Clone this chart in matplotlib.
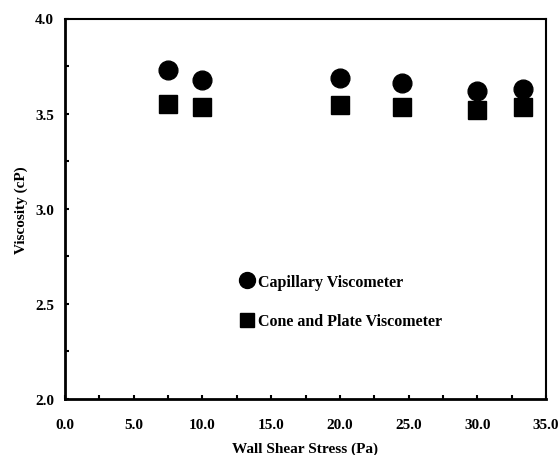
import matplotlib
matplotlib.use("Agg")
import matplotlib.pyplot as plt
from matplotlib.ticker import MultipleLocator, FormatStrFormatter

plt.rcParams['font.family'] = ['Liberation Serif', 'DejaVu Serif']
plt.rcParams['font.weight'] = 'bold'

shear_stress = [7.5, 10.0, 20.0, 24.5, 30.0, 33.3]
capillary = [3.728, 3.678, 3.686, 3.661, 3.621, 3.630]
cone_plate = [3.551, 3.537, 3.545, 3.533, 3.519, 3.535]

fig = plt.figure(figsize=(5.6, 4.56), dpi=100)
ax = fig.add_axes([65/560, 1-400/456, (546-65)/560, (400-19.5)/456])

ax.plot(shear_stress, capillary, 'o', color='black', markersize=13.5, linestyle='none',
        label='Capillary Viscometer')
ax.plot(shear_stress, cone_plate, 's', color='black', markersize=12.5, linestyle='none',
        label='Cone and Plate Viscometer')

ax.set_xlim(0, 35)
ax.set_ylim(2.0, 4.0)
ax.xaxis.set_major_locator(MultipleLocator(5))
ax.xaxis.set_minor_locator(MultipleLocator(2.5))
ax.yaxis.set_major_locator(MultipleLocator(0.5))
ax.yaxis.set_minor_locator(MultipleLocator(0.25))
ax.xaxis.set_major_formatter(FormatStrFormatter('%.1f'))
ax.yaxis.set_major_formatter(FormatStrFormatter('%.1f'))
ax.tick_params(which='both', direction='in', length=3, width=1.5, labelsize=11)
ax.tick_params(axis='x', pad=14)
ax.tick_params(axis='y', pad=8)
for lab in ax.get_xticklabels() + ax.get_yticklabels():
    lab.set_fontweight('bold')
for s in ['left', 'bottom']:
    ax.spines[s].set_linewidth(2)
for s in ['top', 'right']:
    ax.spines[s].set_linewidth(1.5)

ax.set_xlabel('Wall Shear Stress (Pa)', fontsize=11, fontweight='bold', labelpad=7)
ax.set_ylabel('Viscosity (cP)', fontsize=11, fontweight='bold', labelpad=5)

leg = ax.legend(loc='upper left', bbox_to_anchor=((238-65)/481, 1-(275-19.5)/380.5),
                frameon=False, fontsize=11.5, handletextpad=0.15, labelspacing=1.45,
                handlelength=1.1, borderaxespad=0, borderpad=0, markerscale=0.85)
for t in leg.get_texts():
    t.set_fontweight('bold')

fig.savefig('out.png', dpi=100)
